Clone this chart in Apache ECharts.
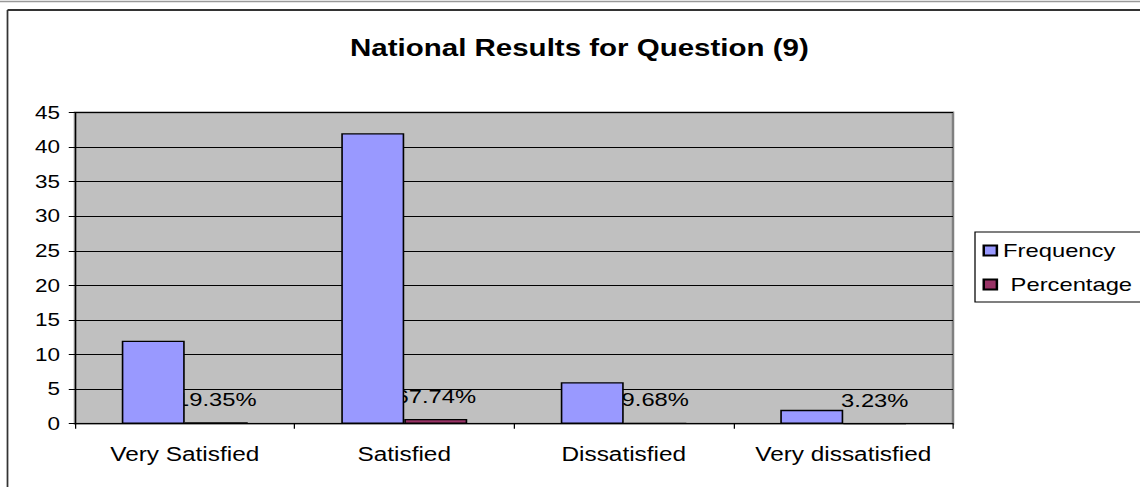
<!DOCTYPE html>
<html>
<head>
<meta charset="utf-8">
<script src="https://cdn.jsdelivr.net/npm/echarts@6/dist/echarts.min.js"></script>
<style>
  html, body { margin: 0; padding: 0; background: #ffffff; overflow: hidden; }
  #wrap { width: 1140px; height: 487px; overflow: hidden; }
  #chart { width: 912px; height: 487px; transform: scaleX(1.25); transform-origin: 0 0; }
</style>
</head>
<body>
<div id="wrap"><div id="chart"></div></div>
<script>
const titleText = 'National Results for Question (9)';
const categories = ['Very Satisfied', 'Satisfied', 'Dissatisfied', 'Very dissatisfied'];
const frequency = [12, 42, 6, 2];
const percentage = [19.35, 67.74, 9.68, 3.23];
const yTicks = { min: 0, max: 45, interval: 5 };

const FONT = '"Liberation Sans", Arial, sans-serif';
const chart = echarts.init(document.getElementById('chart'), null, { renderer: 'svg' });

chart.setOption({
  backgroundColor: '#ffffff',
  animation: false,
  title: {
    text: titleText,
    left: 280,
    top: 36,
    padding: 0,
    textStyle: { fontFamily: FONT, fontSize: 23.6, fontWeight: 'bold', color: '#000' }
  },
  graphic: [
    { type: 'line', shape: { x1: 0, y1: 1.5, x2: 912, y2: 1.5 }, style: { stroke: '#999', lineWidth: 1.5 } },
    { type: 'line', shape: { x1: 6, y1: 10, x2: 912, y2: 10 }, style: { stroke: '#333', lineWidth: 1.8 } },
    { type: 'line', shape: { x1: 6, y1: 10, x2: 6, y2: 487 }, style: { stroke: '#333', lineWidth: 1.4 } }
  ],
  legend: {
    orient: 'vertical',
    left: 780,
    top: 232,
    icon: 'rect',
    itemWidth: 10.5,
    itemHeight: 10,
    itemGap: 15,
    padding: [9, 40, 8, 6],
    borderColor: '#000',
    borderWidth: 1,
    backgroundColor: '#fff',
    borderRadius: 0,
    textStyle: { fontFamily: FONT, fontSize: 19, color: '#000' },
    formatter: name => name === 'Percentage' ? '{p|' + name + '}' : name,
    data: ['Frequency', 'Percentage']
  },
  grid: {
    left: 60,
    right: 149.6,
    top: 112.5,
    bottom: 63.3,
    show: true,
    backgroundColor: '#C0C0C0',
    borderColor: '#808080',
    borderWidth: 2
  },
  xAxis: {
    type: 'category',
    data: categories,
    boundaryGap: true,
    axisLine: { show: true, lineStyle: { color: '#000', width: 1 } },
    axisTick: { show: true, length: 5, interval: 0, lineStyle: { color: '#000' } },
    axisLabel: { interval: 0, margin: 21, fontFamily: FONT, fontSize: 19.5, color: '#000' },
    splitLine: { show: false }
  },
  yAxis: {
    type: 'value',
    min: yTicks.min,
    max: yTicks.max,
    interval: yTicks.interval,
    axisLine: { show: true, lineStyle: { color: '#000', width: 1 } },
    axisTick: { show: true, length: 5, lineStyle: { color: '#000' } },
    axisLabel: { margin: 12, fontFamily: FONT, fontSize: 18, color: '#000' },
    splitLine: { show: true, lineStyle: { color: '#000', width: 1 } }
  },
  series: [
    {
      name: 'Frequency',
      type: 'bar',
      z: 3,
      data: frequency,
      barWidth: 50.4,
      barGap: '0%',
      itemStyle: { color: '#9999FF', borderColor: '#000', borderWidth: 1.3 }
    },
    {
      name: 'Percentage',
      type: 'bar',
      z: 2,
      data: percentage.map(v => v / 100),
      barWidth: 50.4,
      barGap: '0%',
      itemStyle: { color: '#993366', borderColor: '#000', borderWidth: 1.3 },
      label: {
        show: true,
        position: 'top',
        distance: 13,
        fontFamily: FONT,
        fontSize: 19,
        color: '#000',
        formatter: p => percentage[p.dataIndex].toFixed(2) + '%'
      }
    }
  ]
});
chart.setOption({ legend: { textStyle: { rich: { p: { fontFamily: FONT, fontSize: 19, color: '#000', padding: [0, 0, 0, 6] } } } } });
</script>
</body>
</html>
